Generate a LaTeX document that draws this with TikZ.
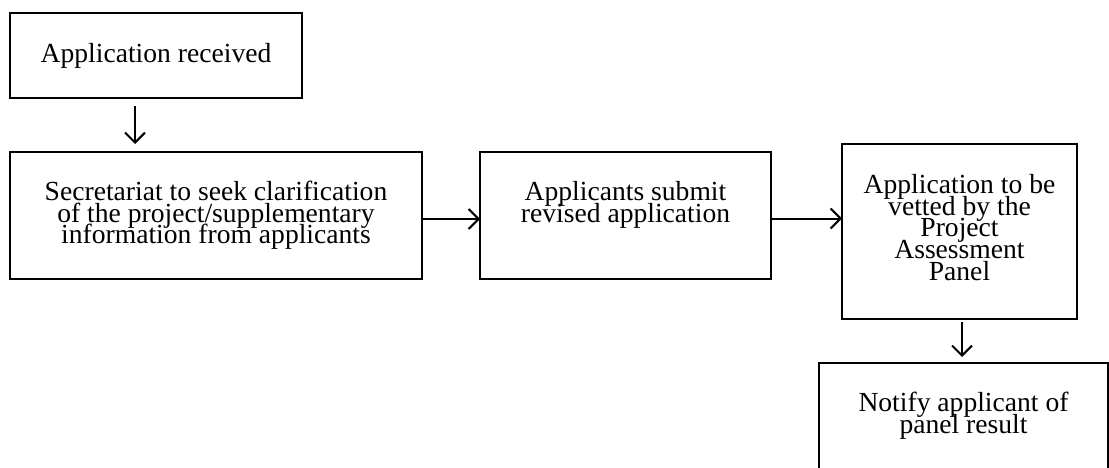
\documentclass[tikz,border=0pt]{standalone}
\usepackage{fontspec}
\setmainfont{Liberation Serif}
\usetikzlibrary{arrows.meta}
\setlength{\lineskiplimit}{-100pt}
\newcommand{\boxfont}{\fontsize{27.6}{21.7}\selectfont}
\begin{document}
\begin{tikzpicture}[x=1pt,y=-1pt,
  box/.style={draw,line width=2pt,inner sep=0pt,outer sep=0pt},
  txt/.style={align=center,inner sep=0pt,font=\boxfont},
  arr/.style={line width=2pt,-{Straight Barb[length=10pt,width=20pt]}}]
\useasboundingbox (0,0) rectangle (1109,468);
\clip (0,0) rectangle (1109,468);
\fill[white] (0,0) rectangle (1109,468);
\node[box,minimum width=292pt,minimum height=85pt,
  label={[txt]center:Application received}] (a) at (156,55.5) {};
\node[box,minimum width=412pt,minimum height=127pt,
  label={[txt]center:Secretariat to seek clarification\\of the project/supplementary\\information from applicants}] (b) at (216,215.5) {};
\node[box,minimum width=291pt,minimum height=127pt,
  label={[txt,yshift=10.5pt]center:Applicants submit\\revised application}] (c) at (625.5,215.5) {};
\node[box,minimum width=235pt,minimum height=175pt,
  label={[txt,yshift=4pt]center:Application to be\\vetted by the\\Project\\Assessment\\Panel}] (d) at (959.5,231.5) {};
\node[box,minimum width=289pt,minimum height=157pt,
  label={[txt,yshift=26pt]center:Notify applicant of\\panel result}] (e) at (963.5,441.5) {};
\draw[arr,shorten <=8pt,shorten >=8pt] ([xshift=-21pt]a.south) -- ([xshift=-21pt]a.south |- b.north);
\draw[arr] ([yshift=-3.5pt]b.east) -- ([yshift=-3.5pt]c.west);
\draw[arr] ([yshift=-3pt]c.east) -- ([yshift=-3pt]c.east -| d.west);
\draw[arr,shorten <=3pt,shorten >=6pt] ([xshift=2.5pt]d.south) -- ([xshift=2.5pt]d.south |- e.north);
\end{tikzpicture}
\end{document}
